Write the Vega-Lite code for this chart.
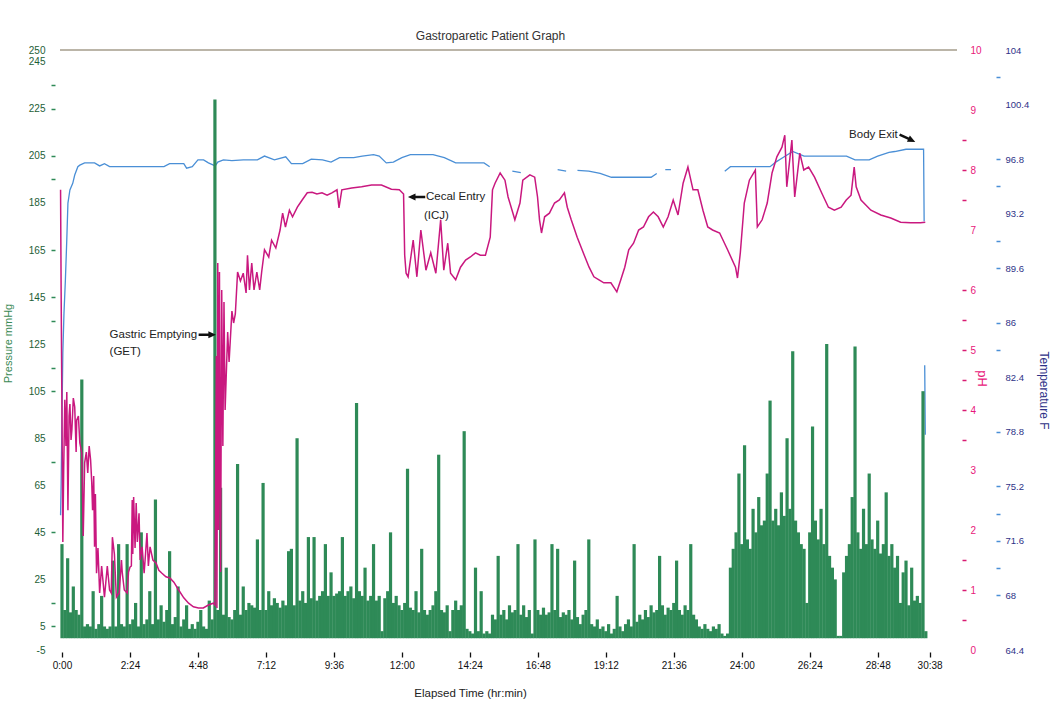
{
"$schema":"https://vega.github.io/schema/vega-lite/v6.json",
"width":907,"height":600,
"autosize":{"type":"none"},
"padding":{"left":55,"top":50,"right":88,"bottom":55},
"background":"white",
"config":{"view":{"stroke":null},"font":"Liberation Sans","axis":{"grid":false,"domain":false,"labelOverlap":false,"labelFlush":false}},
"title":{"text":"Gastroparetic Patient Graph","fontSize":12,"fontWeight":"normal","color":"#333333","font":"Liberation Sans","offset":2,"dx":-18,"anchor":"middle"},
"datasets":{
"pressure":[
{"t":0,"p":40},{"t":0.1,"p":12},{"t":0.2,"p":34},{"t":0.3,"p":11},{"t":0.4,"p":22},{"t":0.5,"p":12},{"t":0.6,"p":10},{"t":0.7,"p":110},{"t":0.8,"p":5},{"t":0.9,"p":6},
{"t":1,"p":5},{"t":1.1,"p":20},{"t":1.2,"p":4},{"t":1.3,"p":6},{"t":1.4,"p":18},{"t":1.5,"p":5},{"t":1.6,"p":4},{"t":1.7,"p":5},{"t":1.8,"p":33},{"t":1.9,"p":5},
{"t":2,"p":40},{"t":2.1,"p":6},{"t":2.2,"p":5},{"t":2.3,"p":40},{"t":2.4,"p":6},{"t":2.5,"p":8},{"t":2.6,"p":15},{"t":2.7,"p":5},{"t":2.8,"p":45},{"t":2.9,"p":6},
{"t":3,"p":8},{"t":3.1,"p":20},{"t":3.2,"p":6},{"t":3.3,"p":59},{"t":3.4,"p":8},{"t":3.5,"p":14},{"t":3.6,"p":7},{"t":3.7,"p":12},{"t":3.8,"p":37},{"t":3.9,"p":6},
{"t":4,"p":9},{"t":4.1,"p":22},{"t":4.2,"p":5},{"t":4.3,"p":8},{"t":4.4,"p":14},{"t":4.5,"p":4},{"t":4.6,"p":6},{"t":4.7,"p":4},{"t":4.8,"p":7},{"t":4.9,"p":12},
{"t":5,"p":5},{"t":5.1,"p":4},{"t":5.2,"p":16},{"t":5.3,"p":8},{"t":5.4,"p":229},{"t":5.5,"p":12},{"t":5.6,"p":64},{"t":5.7,"p":10},{"t":5.8,"p":30},{"t":5.9,"p":9},
{"t":6,"p":8},{"t":6.1,"p":12},{"t":6.2,"p":74},{"t":6.3,"p":10},{"t":6.4,"p":22},{"t":6.5,"p":12},{"t":6.6,"p":15},{"t":6.7,"p":14},{"t":6.8,"p":13},{"t":6.9,"p":42},
{"t":7,"p":12},{"t":7.1,"p":66},{"t":7.2,"p":12},{"t":7.3,"p":20},{"t":7.4,"p":14},{"t":7.5,"p":17},{"t":7.6,"p":15},{"t":7.7,"p":13},{"t":7.8,"p":16},{"t":7.9,"p":14},
{"t":8,"p":37},{"t":8.1,"p":38},{"t":8.2,"p":14},{"t":8.3,"p":85},{"t":8.4,"p":16},{"t":8.5,"p":20},{"t":8.6,"p":15},{"t":8.7,"p":43},{"t":8.8,"p":17},{"t":8.9,"p":43},
{"t":9,"p":16},{"t":9.1,"p":18},{"t":9.2,"p":20},{"t":9.3,"p":40},{"t":9.4,"p":18},{"t":9.5,"p":28},{"t":9.6,"p":18},{"t":9.7,"p":19},{"t":9.8,"p":20},{"t":9.9,"p":43},
{"t":10,"p":18},{"t":10.1,"p":20},{"t":10.2,"p":22},{"t":10.3,"p":17},{"t":10.4,"p":100},{"t":10.5,"p":20},{"t":10.6,"p":18},{"t":10.7,"p":30},{"t":10.8,"p":16},{"t":10.9,"p":18},
{"t":11,"p":40},{"t":11.1,"p":16},{"t":11.2,"p":18},{"t":11.3,"p":3},{"t":11.4,"p":17},{"t":11.5,"p":20},{"t":11.6,"p":45},{"t":11.7,"p":15},{"t":11.8,"p":18},{"t":11.9,"p":14},
{"t":12,"p":12},{"t":12.1,"p":15},{"t":12.2,"p":72},{"t":12.3,"p":13},{"t":12.4,"p":12},{"t":12.5,"p":20},{"t":12.6,"p":11},{"t":12.7,"p":38},{"t":12.8,"p":12},{"t":12.9,"p":10},
{"t":13,"p":12},{"t":13.1,"p":14},{"t":13.2,"p":20},{"t":13.3,"p":78},{"t":13.4,"p":12},{"t":13.5,"p":11},{"t":13.6,"p":14},{"t":13.7,"p":3},{"t":13.8,"p":12},{"t":13.9,"p":16},
{"t":14,"p":12},{"t":14.1,"p":14},{"t":14.2,"p":88},{"t":14.3,"p":4},{"t":14.4,"p":3},{"t":14.5,"p":2},{"t":14.6,"p":30},{"t":14.7,"p":3},{"t":14.8,"p":20},{"t":14.9,"p":2},
{"t":15,"p":3},{"t":15.1,"p":2},{"t":15.2,"p":10},{"t":15.3,"p":8},{"t":15.4,"p":35},{"t":15.5,"p":10},{"t":15.6,"p":12},{"t":15.7,"p":8},{"t":15.8,"p":14},{"t":15.9,"p":11},
{"t":16,"p":12},{"t":16.1,"p":40},{"t":16.2,"p":10},{"t":16.3,"p":14},{"t":16.4,"p":9},{"t":16.5,"p":12},{"t":16.6,"p":2},{"t":16.7,"p":42},{"t":16.8,"p":12},{"t":16.9,"p":10},
{"t":17,"p":13},{"t":17.1,"p":10},{"t":17.2,"p":11},{"t":17.3,"p":40},{"t":17.4,"p":12},{"t":17.5,"p":38},{"t":17.6,"p":9},{"t":17.7,"p":11},{"t":17.8,"p":10},{"t":17.9,"p":12},
{"t":18,"p":8},{"t":18.1,"p":33},{"t":18.2,"p":9},{"t":18.3,"p":6},{"t":18.4,"p":10},{"t":18.5,"p":12},{"t":18.6,"p":42},{"t":18.7,"p":6},{"t":18.8,"p":5},{"t":18.9,"p":8},
{"t":19,"p":4},{"t":19.1,"p":5},{"t":19.2,"p":3},{"t":19.3,"p":6},{"t":19.4,"p":2},{"t":19.5,"p":4},{"t":19.6,"p":18},{"t":19.7,"p":5},{"t":19.8,"p":3},{"t":19.9,"p":6},
{"t":20,"p":8},{"t":20.1,"p":5},{"t":20.2,"p":40},{"t":20.3,"p":7},{"t":20.4,"p":10},{"t":20.5,"p":8},{"t":20.6,"p":12},{"t":20.7,"p":9},{"t":20.8,"p":14},{"t":20.9,"p":11},
{"t":21,"p":12},{"t":21.1,"p":35},{"t":21.2,"p":14},{"t":21.3,"p":10},{"t":21.4,"p":13},{"t":21.5,"p":12},{"t":21.6,"p":15},{"t":21.7,"p":33},{"t":21.8,"p":12},{"t":21.9,"p":10},
{"t":22,"p":14},{"t":22.1,"p":12},{"t":22.2,"p":40},{"t":22.3,"p":10},{"t":22.4,"p":8},{"t":22.5,"p":5},{"t":22.6,"p":4},{"t":22.7,"p":6},{"t":22.8,"p":4},{"t":22.9,"p":3},
{"t":23,"p":5},{"t":23.1,"p":4},{"t":23.2,"p":6},{"t":23.3,"p":2},{"t":23.4,"p":1},{"t":23.5,"p":2},{"t":23.6,"p":30},{"t":23.7,"p":38},{"t":23.8,"p":45},{"t":23.9,"p":70},
{"t":24,"p":40},{"t":24.1,"p":82},{"t":24.2,"p":42},{"t":24.3,"p":38},{"t":24.4,"p":55},{"t":24.5,"p":45},{"t":24.6,"p":60},{"t":24.7,"p":48},{"t":24.8,"p":50},{"t":24.9,"p":70},
{"t":25,"p":101},{"t":25.1,"p":50},{"t":25.2,"p":55},{"t":25.3,"p":48},{"t":25.4,"p":62},{"t":25.5,"p":52},{"t":25.6,"p":85},{"t":25.7,"p":55},{"t":25.8,"p":122},{"t":25.9,"p":50},
{"t":26,"p":45},{"t":26.1,"p":40},{"t":26.2,"p":38},{"t":26.3,"p":15},{"t":26.4,"p":45},{"t":26.5,"p":90},{"t":26.6,"p":50},{"t":26.7,"p":42},{"t":26.8,"p":55},{"t":26.9,"p":40},
{"t":27,"p":125},{"t":27.1,"p":35},{"t":27.2,"p":30},{"t":27.3,"p":25},{"t":27.4,"p":1},{"t":27.5,"p":1},{"t":27.6,"p":28},{"t":27.7,"p":35},{"t":27.8,"p":40},{"t":27.9,"p":60},
{"t":28,"p":124},{"t":28.1,"p":45},{"t":28.2,"p":38},{"t":28.3,"p":55},{"t":28.4,"p":40},{"t":28.5,"p":70},{"t":28.6,"p":42},{"t":28.7,"p":38},{"t":28.8,"p":50},{"t":28.9,"p":36},
{"t":29,"p":40},{"t":29.1,"p":62},{"t":29.2,"p":35},{"t":29.3,"p":40},{"t":29.4,"p":30},{"t":29.5,"p":35},{"t":29.6,"p":15},{"t":29.7,"p":28},{"t":29.8,"p":33},{"t":29.9,"p":14},
{"t":30,"p":30},{"t":30.1,"p":16},{"t":30.2,"p":18},{"t":30.3,"p":15},{"t":30.4,"p":105},{"t":30.5,"p":3}
],
"ph":[
{"t":-0.05,"ph":7.67},{"t":-0.03,"ph":5.97},{"t":0.0,"ph":3.9},{"t":0.03,"ph":1.8},{"t":0.06,"ph":3.0},{"t":0.1,"ph":4.17},{"t":0.14,"ph":3.4},{"t":0.17,"ph":4.3},{"t":0.21,"ph":2.33},{"t":0.25,"ph":3.9},{"t":0.28,"ph":4.1},{"t":0.32,"ph":3.5},{"t":0.35,"ph":3.67},{"t":0.4,"ph":4.2},{"t":0.45,"ph":4.05},{"t":0.5,"ph":3.3},{"t":0.52,"ph":3.83},{"t":0.58,"ph":3.9},{"t":0.63,"ph":3.45},{"t":0.7,"ph":3.28},{"t":0.75,"ph":1.9},{"t":0.8,"ph":3.12},{"t":0.86,"ph":3.3},{"t":0.91,"ph":2.95},{"t":0.96,"ph":3.4},{"t":1.01,"ph":3.17},{"t":1.05,"ph":2.8},{"t":1.08,"ph":2.33},{"t":1.12,"ph":2.9},{"t":1.15,"ph":1.72},{"t":1.18,"ph":2.6},{"t":1.22,"ph":1.28},{"t":1.27,"ph":1.7},{"t":1.33,"ph":0.95},{"t":1.4,"ph":1.4},{"t":1.5,"ph":0.88},{"t":1.6,"ph":1.4},{"t":1.68,"ph":1.0},{"t":1.74,"ph":0.95},{"t":1.78,"ph":1.88},{"t":1.85,"ph":1.6},{"t":1.92,"ph":0.88},{"t":2.02,"ph":0.95},{"t":2.1,"ph":1.5},{"t":2.13,"ph":1.28},{"t":2.2,"ph":1.0},{"t":2.3,"ph":0.95},{"t":2.35,"ph":1.3},{"t":2.4,"ph":1.38},{"t":2.45,"ph":1.4},{"t":2.48,"ph":2.5},{"t":2.5,"ph":1.6},{"t":2.53,"ph":2.55},{"t":2.58,"ph":1.7},{"t":2.62,"ph":2.45},{"t":2.66,"ph":1.8},{"t":2.72,"ph":2.28},{"t":2.76,"ph":1.5},{"t":2.83,"ph":1.72},{"t":2.9,"ph":1.28},{"t":2.95,"ph":1.6},{"t":3.0,"ph":1.95},{"t":3.05,"ph":1.4},{"t":3.11,"ph":1.72},{"t":3.21,"ph":1.5},{"t":3.32,"ph":1.45},{"t":3.42,"ph":1.33},{"t":3.53,"ph":1.28},{"t":3.67,"ph":1.22},{"t":3.81,"ph":1.2},{"t":3.95,"ph":1.13},{"t":4.12,"ph":1.0},{"t":4.3,"ph":0.87},{"t":4.47,"ph":0.78},{"t":4.64,"ph":0.72},{"t":4.82,"ph":0.7},{"t":4.99,"ph":0.7},{"t":5.17,"ph":0.75},{"t":5.34,"ph":0.78},{"t":5.4,"ph":0.75},{"t":5.45,"ph":4.9},{"t":5.47,"ph":0.7},{"t":5.5,"ph":6.45},{"t":5.53,"ph":2.0},{"t":5.56,"ph":6.3},{"t":5.6,"ph":1.3},{"t":5.64,"ph":6.0},{"t":5.68,"ph":3.4},{"t":5.72,"ph":5.8},{"t":5.76,"ph":4.0},{"t":5.85,"ph":5.3},{"t":5.9,"ph":4.8},{"t":6.0,"ph":5.65},{"t":6.06,"ph":5.45},{"t":6.12,"ph":5.6},{"t":6.2,"ph":6.3},{"t":6.3,"ph":6.15},{"t":6.4,"ph":6.28},{"t":6.5,"ph":5.95},{"t":6.55,"ph":6.58},{"t":6.62,"ph":6.0},{"t":6.7,"ph":6.45},{"t":6.78,"ph":6.0},{"t":6.88,"ph":6.3},{"t":6.98,"ph":6.0},{"t":7.05,"ph":6.3},{"t":7.15,"ph":6.67},{"t":7.3,"ph":6.55},{"t":7.4,"ph":6.83},{"t":7.55,"ph":6.7},{"t":7.7,"ph":7.0},{"t":7.79,"ph":7.28},{"t":7.89,"ph":7.05},{"t":8.03,"ph":7.33},{"t":8.14,"ph":7.22},{"t":8.31,"ph":7.38},{"t":8.48,"ph":7.5},{"t":8.66,"ph":7.62},{"t":8.83,"ph":7.63},{"t":9.0,"ph":7.6},{"t":9.18,"ph":7.62},{"t":9.36,"ph":7.58},{"t":9.53,"ph":7.62},{"t":9.71,"ph":7.67},{"t":9.78,"ph":7.37},{"t":9.88,"ph":7.67},{"t":10.23,"ph":7.7},{"t":10.58,"ph":7.72},{"t":10.93,"ph":7.75},{"t":11.28,"ph":7.75},{"t":11.63,"ph":7.68},{"t":11.91,"ph":7.67},{"t":12.06,"ph":7.6},{"t":12.1,"ph":6.58},{"t":12.15,"ph":6.28},{"t":12.22,"ph":6.22},{"t":12.4,"ph":6.83},{"t":12.53,"ph":6.22},{"t":12.67,"ph":7.0},{"t":12.85,"ph":6.33},{"t":13.02,"ph":6.62},{"t":13.2,"ph":6.28},{"t":13.37,"ph":7.17},{"t":13.48,"ph":6.33},{"t":13.62,"ph":6.78},{"t":13.72,"ph":6.28},{"t":13.9,"ph":6.17},{"t":14.07,"ph":6.38},{"t":14.25,"ph":6.5},{"t":14.42,"ph":6.55},{"t":14.6,"ph":6.62},{"t":14.77,"ph":6.58},{"t":14.95,"ph":6.58},{"t":15.12,"ph":6.88},{"t":15.2,"ph":7.67},{"t":15.29,"ph":7.78},{"t":15.47,"ph":7.95},{"t":15.64,"ph":7.83},{"t":15.75,"ph":7.55},{"t":15.89,"ph":7.33},{"t":15.99,"ph":7.17},{"t":16.17,"ph":7.45},{"t":16.27,"ph":7.83},{"t":16.52,"ph":7.92},{"t":16.69,"ph":7.88},{"t":16.79,"ph":7.55},{"t":16.86,"ph":7.17},{"t":16.93,"ph":6.95},{"t":17.04,"ph":7.22},{"t":17.21,"ph":7.28},{"t":17.39,"ph":7.45},{"t":17.56,"ph":7.5},{"t":17.74,"ph":7.62},{"t":17.84,"ph":7.38},{"t":17.98,"ph":7.17},{"t":18.19,"ph":6.88},{"t":18.44,"ph":6.58},{"t":18.61,"ph":6.38},{"t":18.78,"ph":6.22},{"t":18.96,"ph":6.17},{"t":19.13,"ph":6.12},{"t":19.38,"ph":6.12},{"t":19.59,"ph":5.97},{"t":19.73,"ph":6.17},{"t":19.87,"ph":6.38},{"t":20.01,"ph":6.67},{"t":20.18,"ph":6.78},{"t":20.36,"ph":7.0},{"t":20.53,"ph":7.05},{"t":20.71,"ph":7.22},{"t":20.88,"ph":7.3},{"t":21.05,"ph":7.22},{"t":21.23,"ph":7.05},{"t":21.4,"ph":7.22},{"t":21.58,"ph":7.5},{"t":21.75,"ph":7.25},{"t":21.93,"ph":7.78},{"t":22.1,"ph":8.05},{"t":22.28,"ph":7.67},{"t":22.45,"ph":7.67},{"t":22.63,"ph":7.33},{"t":22.8,"ph":7.05},{"t":22.97,"ph":7.0},{"t":23.22,"ph":6.95},{"t":23.5,"ph":6.67},{"t":23.78,"ph":6.38},{"t":23.85,"ph":6.2},{"t":23.95,"ph":6.62},{"t":24.09,"ph":7.45},{"t":24.27,"ph":7.83},{"t":24.48,"ph":8.0},{"t":24.55,"ph":7.05},{"t":24.72,"ph":7.17},{"t":24.9,"ph":7.45},{"t":25.07,"ph":7.95},{"t":25.24,"ph":8.22},{"t":25.42,"ph":8.38},{"t":25.52,"ph":8.58},{"t":25.59,"ph":7.72},{"t":25.77,"ph":8.5},{"t":25.87,"ph":7.55},{"t":26.05,"ph":8.28},{"t":26.19,"ph":8.0},{"t":26.36,"ph":8.05},{"t":26.57,"ph":7.88},{"t":26.82,"ph":7.62},{"t":27.06,"ph":7.38},{"t":27.27,"ph":7.33},{"t":27.51,"ph":7.38},{"t":27.69,"ph":7.5},{"t":27.86,"ph":7.58},{"t":27.97,"ph":8.05},{"t":28.04,"ph":7.72},{"t":28.21,"ph":7.5},{"t":28.56,"ph":7.33},{"t":28.91,"ph":7.25},{"t":29.26,"ph":7.2},{"t":29.61,"ph":7.13},{"t":29.96,"ph":7.12},{"t":30.31,"ph":7.12},{"t":30.48,"ph":7.13}
],
"temp":[
{"t":-0.05,"T":73.3},{"t":-0.03,"T":75.4},{"t":0.0,"T":79.8},{"t":0.03,"T":84.0},{"t":0.07,"T":86.6},{"t":0.12,"T":88.8},{"t":0.17,"T":91.5},{"t":0.21,"T":93.9},{"t":0.28,"T":94.76},{"t":0.38,"T":95.2},{"t":0.45,"T":95.75},{"t":0.56,"T":96.3},{"t":0.63,"T":96.4},{"t":0.8,"T":96.55},{"t":1.15,"T":96.55},{"t":1.33,"T":96.35},{"t":1.5,"T":96.5},{"t":1.68,"T":96.3},{"t":2.2,"T":96.3},{"t":3.6,"T":96.3},{"t":3.8,"T":96.5},{"t":4.3,"T":96.5},{"t":4.4,"T":96.2},{"t":4.6,"T":96.3},{"t":4.8,"T":96.75},{"t":5.0,"T":96.75},{"t":5.17,"T":96.55},{"t":5.41,"T":96.35},{"t":5.5,"T":96.6},{"t":5.7,"T":96.75},{"t":6.0,"T":96.7},{"t":6.4,"T":96.75},{"t":6.9,"T":96.75},{"t":7.15,"T":97.0},{"t":7.5,"T":96.75},{"t":7.9,"T":96.95},{"t":8.1,"T":96.5},{"t":8.5,"T":96.5},{"t":8.8,"T":96.8},{"t":9.2,"T":96.75},{"t":9.5,"T":96.6},{"t":9.8,"T":96.9},{"t":10.3,"T":96.9},{"t":10.6,"T":97.0},{"t":11.0,"T":97.1},{"t":11.2,"T":97.0},{"t":11.45,"T":96.55},{"t":11.7,"T":96.6},{"t":12.0,"T":96.9},{"t":12.3,"T":97.1},{"t":13.1,"T":97.1},{"t":13.5,"T":96.9},{"t":13.9,"T":96.55},{"t":14.5,"T":96.55},{"t":14.9,"T":96.55},{"t":15.1,"T":96.3},{"t":15.3,"T":null},{"t":15.9,"T":96.0},{"t":16.2,"T":95.9},{"t":16.4,"T":null},{"t":17.5,"T":96.1},{"t":17.8,"T":96.0},{"t":18.0,"T":null},{"t":18.2,"T":96.05},{"t":18.6,"T":96.0},{"t":19.0,"T":95.85},{"t":19.4,"T":95.6},{"t":20.8,"T":95.6},{"t":21.0,"T":95.85},{"t":21.15,"T":null},{"t":21.3,"T":96.1},{"t":21.5,"T":96.1},{"t":21.7,"T":null},{"t":23.4,"T":96.0},{"t":23.6,"T":96.3},{"t":24.0,"T":96.3},{"t":25.0,"T":96.3},{"t":25.2,"T":96.6},{"t":25.5,"T":96.95},{"t":25.8,"T":97.3},{"t":26.2,"T":97.0},{"t":27.7,"T":97.0},{"t":28.0,"T":96.75},{"t":28.5,"T":96.75},{"t":28.8,"T":97.0},{"t":29.2,"T":97.25},{"t":29.4,"T":97.3},{"t":29.8,"T":97.45},{"t":30.42,"T":97.45},{"t":30.44,"T":92.7},{"t":30.45,"T":null},{"t":30.46,"T":83.2},{"t":30.48,"T":78.6}
],
"topline":[{"t":-0.07,"p":250},{"t":31.6,"p":250}],
"notes":[
{"t":1.68,"p":129,"label":"Gastric Emptying"},{"t":1.68,"p":121.6,"label":"(GET)"},
{"t":12.85,"p":187.5,"label":"Cecal Entry"},{"t":12.78,"p":179.4,"label":"(ICJ)"},
{"t":27.79,"p":213.9,"label":"Body Exit"}
]
},
"encoding":{"x":{"field":"t","type":"quantitative","scale":{"domain":[-0.07,31.6],"nice":false,"zero":false},
"axis":{"values":[0,2.4,4.8,7.2,9.6,12,14.4,16.8,19.2,21.6,24,26.4,28.8,30.633],
"labelExpr":"floor(datum.value) + ':' + (round((datum.value - floor(datum.value)) * 60) < 10 ? '0' : '') + round((datum.value - floor(datum.value)) * 60)",
"title":"Elapsed Time (hr:min)","offset":2,"tickSize":5,"tickColor":"#111111","tickWidth":1.3,"labelFontSize":10,"labelColor":"#111111","labelPadding":3,
"titleFontSize":11.5,"titleFontWeight":"normal","titleColor":"#222222","titleX":415,"titleY":41,"titleAlign":"center","titleBaseline":"middle"}}},
"layer":[
{"data":{"name":"temp"},"mark":{"type":"line","color":"#4a8fd6","strokeWidth":1.3,"invalid":"break-paths-show-domains"},
"encoding":{"y":{"field":"T","type":"quantitative","scale":{"domain":[64.4,104],"nice":false,"zero":false},
"axis":{"orient":"right","offset":34,"values":[104,102.2,100.4,96.8,95,93.2,91.4,89.6,86,84.2,82.4,78.8,75.2,73.4,71.6,69.8,68,64.4],
"labelExpr":"indexof([102.2,95,91.4,84.2,73.4,69.8], datum.value) >= 0 ? '' : '' + datum.value",
"tickOpacity":{"condition":{"test":"indexof([104,100.4,93.2,82.4,64.4], datum.value) >= 0","value":0},"value":1},
"tickSize":4,"tickColor":"#4a8fd6","tickWidth":1.5,"labelColor":"#2e3287","labelFontSize":9.5,"labelPadding":5,
"title":"Temperature F","titleColor":"#2e3287","titleFontSize":12,"titleFontWeight":"normal","titleAngle":90,"titleX":47,"titleY":340,"titleAlign":"center","titleBaseline":"middle"}}}},
{"data":{"name":"topline"},"mark":{"type":"line","color":"#bbb5a8","strokeWidth":2},
"encoding":{"y":{"field":"p","type":"quantitative","scale":{"domain":[-5,250],"nice":false,"zero":false},"axis":null}}},
{"data":{"name":"pressure"},"mark":{"type":"bar","width":3.2,"color":"#2e8a57"},
"encoding":{"y":{"field":"p","type":"quantitative","stack":null,"scale":{"domain":[-5,250],"nice":false,"zero":false},
"axis":{"orient":"left","values":[250,245,235,225,205,195,185,165,145,135,125,115,105,85,75,65,45,25,15,5,-5],
"labelExpr":"indexof([235,195,135,115,75,15], datum.value) >= 0 ? '' : '' + datum.value",
"tickOpacity":{"condition":{"test":"indexof([250,245,185,125,85,65,25,-5], datum.value) >= 0","value":0},"value":1},
"tickSize":4,"tickColor":"#2e8a57","tickWidth":1.5,"labelColor":"#1d5e36","labelFontSize":10,"labelPadding":6,
"title":"Pressure mmHg","titleColor":"#3a8a55","titleFontSize":11,"titleFontWeight":"normal","titleAngle":270,"titleX":-47,"titleY":293,"titleAlign":"center","titleBaseline":"middle"}}}},
{"data":{"name":"notes"},"mark":{"type":"text","align":"left","baseline":"middle","fontSize":11.5,"color":"#222222","font":"Liberation Sans"},
"encoding":{"y":{"field":"p","type":"quantitative","scale":{"domain":[-5,250],"nice":false,"zero":false},"axis":null},"text":{"field":"label"}}},
{"data":{"values":[{"t":5.13,"p":129}]},"mark":{"type":"point","shape":"arrow","angle":90,"size":300,"filled":true,"color":"#111111","opacity":1},
"encoding":{"y":{"field":"p","type":"quantitative","scale":{"domain":[-5,250],"nice":false,"zero":false},"axis":null}}},
{"data":{"values":[{"t":12.52,"p":187.5}]},"mark":{"type":"point","shape":"arrow","angle":270,"size":300,"filled":true,"color":"#111111","opacity":1},
"encoding":{"y":{"field":"p","type":"quantitative","scale":{"domain":[-5,250],"nice":false,"zero":false},"axis":null}}},
{"data":{"values":[{"t":29.85,"p":212.5}]},"mark":{"type":"point","shape":"arrow","angle":115,"size":300,"filled":true,"color":"#111111","opacity":1},
"encoding":{"y":{"field":"p","type":"quantitative","scale":{"domain":[-5,250],"nice":false,"zero":false},"axis":null}}},
{"data":{"name":"ph"},"mark":{"type":"line","color":"#c9187f","strokeWidth":1.5},
"encoding":{"y":{"field":"ph","type":"quantitative","scale":{"domain":[0,10],"nice":false,"zero":false},
"axis":{"orient":"right","values":[0,0.5,1,1.5,2,3,3.5,4,4.5,5,5.5,6,7,7.5,8,8.5,9,10],
"labelExpr":"datum.value % 1 != 0 ? '' : '' + datum.value",
"tickOpacity":{"condition":{"test":"indexof([0,2,3,7,9,10], datum.value) >= 0","value":0},"value":1},
"tickSize":4,"tickColor":"#d81b72","tickWidth":1.5,"labelColor":"#e8177a","labelFontSize":10,"labelPadding":4,
"title":"pH","titleColor":"#e8177a","titleFontSize":13,"titleFontWeight":"normal","titleAngle":90,"titleX":19,"titleY":328,"titleAlign":"center","titleBaseline":"middle"}}}}
],
"resolve":{"scale":{"y":"independent"}}
}
